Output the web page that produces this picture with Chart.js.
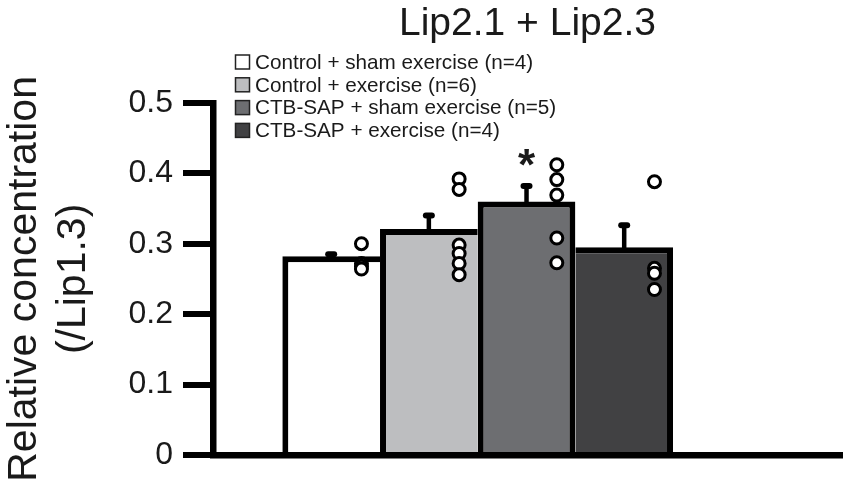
<!DOCTYPE html>
<html lang="en">
<head>
    <meta charset="UTF-8">
    <title>Lip2.1 + Lip2.3</title>
    <script src="https://cdn.jsdelivr.net/npm/chart.js"></script>
    <style>
        html, body { margin: 0; padding: 0; background: #fff; }
        #wrap { width: 851px; height: 489px; }
    </style>
</head>
<body>
    <div id="wrap"><canvas id="lipChart"></canvas></div>

    <script>
        // groups in plot order
        const groups = ['Control + sham exercise (n=4)', 'Control + exercise (n=6)', 'CTB-SAP + sham exercise (n=5)', 'CTB-SAP + exercise (n=4)'];
        const means = [0.282, 0.321, 0.360, 0.295];
        const sem = [0.003, 0.019, 0.022, 0.031];
        const marks = ['', '', '*', ''];

        // single animals
        const ctrlSham = [0.300, 0.272, 0.268, 0.264];
        const ctrlEx = [0.392, 0.377, 0.298, 0.286, 0.272, 0.256];
        const sapSham = [0.412, 0.391, 0.369, 0.308, 0.273];
        const sapEx = [0.388, 0.265, 0.258, 0.235];

        const yTicks = [0, 0.1, 0.2, 0.3, 0.4, 0.5];

        const fills = ['#ffffff', '#bdbec0', '#6d6e71', '#414143'];
        const font = '"Liberation Sans", Arial, sans-serif';
        const ink = '#1a1a1a';
        const dotOffset = 0.31; // dots sit right of the bar centre

        const bars = means.map((m, i) => ({ x: i + 1, y: m }));
        const dots = [ctrlSham, ctrlEx, sapSham, sapEx].flatMap((vals, i) =>
            vals.map(v => ({ x: i + 1 + dotOffset, y: v })));

        // neighbouring bars share one edge, the taller bar draws it
        const edges = [
            { top: 6, left: 6, right: 0, bottom: 0 },
            { top: 6, left: 6, right: 0, bottom: 0 },
            { top: 6, left: 6, right: 6, bottom: 0 },
            { top: 6, left: 0, right: 6, bottom: 0 }
        ];

        // SEM whiskers (up only) + significance star
        const errorBars = {
            id: 'errorBars',
            afterDatasetDraw(chart, args) {
                if (args.index !== 0) return;
                const { ctx, scales: { x, y } } = chart;
                ctx.save();
                ctx.strokeStyle = '#000';
                ctx.fillStyle = ink;
                ctx.lineCap = 'round';
                means.forEach((m, i) => {
                    const px = x.getPixelForValue(i + 1);
                    const base = y.getPixelForValue(m);
                    const top = y.getPixelForValue(m + sem[i]);
                    ctx.lineWidth = 4.5;
                    ctx.beginPath();
                    ctx.moveTo(px, base + 3);
                    ctx.lineTo(px, top);
                    ctx.stroke();
                    ctx.lineWidth = 6;
                    ctx.beginPath();
                    ctx.moveTo(px - 3, top);
                    ctx.lineTo(px + 3, top);
                    ctx.stroke();
                    if (marks[i]) {
                        ctx.font = 'bold 44px ' + font;
                        ctx.textAlign = 'center';
                        ctx.textBaseline = 'alphabetic';
                        ctx.fillText(marks[i], px, top - 6);
                    }
                });
                ctx.restore();
            }
        };

        // stacked legend in the top left corner of the plot
        const boxLegend = {
            id: 'boxLegend',
            afterDraw(chart) {
                const ctx = chart.ctx;
                ctx.save();
                ctx.font = '20.7px ' + font;
                ctx.textBaseline = 'middle';
                ctx.textAlign = 'left';
                groups.forEach((g, i) => {
                    const cy = 62 + i * 22.8;
                    ctx.fillStyle = fills[i];
                    ctx.fillRect(235.5, cy - 7, 14, 14);
                    ctx.lineWidth = 1.5;
                    ctx.strokeStyle = '#222';
                    ctx.strokeRect(235.5, cy - 7, 14, 14);
                    ctx.fillStyle = ink;
                    ctx.fillText(g, 255, cy + 1);
                });
                ctx.restore();
            }
        };

        const ctx = document.getElementById('lipChart').getContext('2d');
        const lipChart = new Chart(ctx, {
            type: 'bar',
            data: {
                datasets: [
                    {
                        label: 'Mean',
                        data: bars,
                        backgroundColor: fills,
                        borderColor: '#000',
                        borderWidth: edges,
                        borderSkipped: false,
                        inflateAmount: 0,
                        barPercentage: 1,
                        categoryPercentage: 1,
                        order: 2
                    },
                    {
                        type: 'scatter',
                        label: 'Animals',
                        data: dots,
                        pointRadius: 6,
                        pointBorderWidth: 3,
                        pointBackgroundColor: '#fff',
                        pointBorderColor: '#000',
                        order: 1
                    }
                ]
            },
            options: {
                responsive: true,
                maintainAspectRatio: false,
                animation: false,
                events: [],
                layout: { padding: { top: 0, right: 9, bottom: 34, left: 0 } },
                plugins: {
                    legend: { display: false },
                    tooltip: { enabled: false },
                    title: {
                        display: true,
                        text: 'Lip2.1 + Lip2.3',
                        fullSize: false,
                        color: ink,
                        font: { family: font, size: 39, weight: 'normal' },
                        padding: { top: 1, bottom: 55 }
                    }
                },
                scales: {
                    x: {
                        type: 'linear',
                        min: -0.21,
                        max: 6.23,
                        offset: false,
                        ticks: { display: false, stepSize: 1, includeBounds: false },
                        grid: { display: false, drawTicks: false, offset: false },
                        border: { width: 6.5, color: '#000' }
                    },
                    y: {
                        min: 0,
                        max: 0.5,
                        afterBuildTicks: s => { s.ticks = yTicks.map(v => ({ value: v })); },
                        afterFit: s => { s.width = 213; },
                        ticks: {
                            padding: 10,
                            color: ink,
                            font: { family: font, size: 32 },
                            callback: v => String(v)
                        },
                        grid: {
                            drawOnChartArea: false,
                            tickLength: 30,
                            lineWidth: 6,
                            color: '#000'
                        },
                        border: { width: 6.5, color: '#000' },
                        title: {
                            display: true,
                            text: ['Relative concentration', '(/Lip1.3)'],
                            color: ink,
                            font: { family: font, size: 41 },
                            padding: { top: 0, bottom: 0 }
                        }
                    }
                }
            },
            plugins: [errorBars, boxLegend]
        });
    </script>
</body>
</html>
